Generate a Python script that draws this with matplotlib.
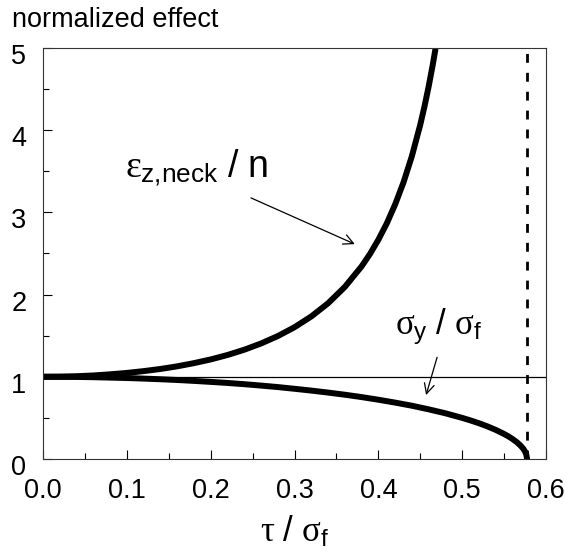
import matplotlib
matplotlib.use('Agg')
import matplotlib.pyplot as plt
from matplotlib.ticker import MultipleLocator
from matplotlib.transforms import ScaledTranslation

plt.rcParams['font.family'] = ['Liberation Sans', 'DejaVu Sans']
plt.rcParams['mathtext.fontset'] = 'custom'
plt.rcParams['mathtext.rm'] = 'Liberation Sans'
plt.rcParams['mathtext.it'] = 'Liberation Serif'
plt.rcParams['mathtext.default'] = 'it'

# values
tau_neck = [0.0, 0.02, 0.04, 0.06, 0.08, 0.10, 0.12, 0.14, 0.16, 0.18, 0.20,
            0.22, 0.24, 0.26, 0.28, 0.30, 0.32, 0.34, 0.36, 0.38, 0.39, 0.40,
            0.41, 0.42, 0.43, 0.44, 0.45, 0.455, 0.46, 0.465, 0.468]
eps_neck = [1.0, 1.002, 1.007, 1.016, 1.03, 1.047, 1.069, 1.095, 1.127, 1.166,
            1.211, 1.265, 1.329, 1.405, 1.495, 1.603, 1.734, 1.894, 2.093,
            2.343, 2.494, 2.667, 2.865, 3.096, 3.365, 3.684, 4.067, 4.287,
            4.531, 4.802, 4.98]

tau_yield = [0.0, 0.02, 0.04, 0.06, 0.08, 0.10, 0.12, 0.14, 0.16, 0.18, 0.20,
             0.22, 0.24, 0.26, 0.28, 0.30, 0.32, 0.34, 0.36, 0.38, 0.40, 0.42,
             0.44, 0.46, 0.48, 0.50, 0.51, 0.52, 0.53, 0.54, 0.55, 0.555,
             0.56, 0.565, 0.57, 0.573, 0.575, 0.5765, 0.5774]
sig_yield = [1.0, 0.999, 0.998, 0.995, 0.99, 0.985, 0.978, 0.97, 0.961, 0.95,
             0.938, 0.925, 0.91, 0.893, 0.875, 0.854, 0.832, 0.808, 0.782,
             0.753, 0.721, 0.686, 0.648, 0.604, 0.556, 0.5, 0.469, 0.435,
             0.397, 0.354, 0.304, 0.276, 0.243, 0.206, 0.159, 0.123, 0.09,
             0.054, 0.0]

tau_limit = 0.5774

fig = plt.figure(figsize=(5.66, 5.54), dpi=100)
ax = fig.add_axes([0.076, 0.1715, 0.8887, 0.7419])

ax.plot(tau_neck, eps_neck, color='black', lw=4.3, solid_capstyle='round',
        solid_joinstyle='round')
ax.plot(tau_yield, sig_yield, color='black', lw=4.3, solid_capstyle='round',
        solid_joinstyle='round')
ax.axhline(1.0, color='black', lw=0.9)
ax.plot([tau_limit, tau_limit], [0, 5], color='black', lw=2.0,
        linestyle=(0, (3.2, 3.6)))

ax.set_xlim(0, 0.6)
ax.set_ylim(0, 5)
ax.xaxis.set_major_locator(MultipleLocator(0.1))
ax.xaxis.set_minor_locator(MultipleLocator(0.05))
ax.yaxis.set_major_locator(MultipleLocator(1))
ax.yaxis.set_minor_locator(MultipleLocator(0.5))
ax.xaxis.set_major_formatter(plt.FormatStrFormatter('%.1f'))
ax.tick_params(which='both', direction='in', top=False, right=False,
               labelsize=19.5, width=0.8)
ax.tick_params(axis='x', which='major', length=6.5, pad=14)
ax.tick_params(axis='y', which='major', length=6.5, pad=12)
ax.tick_params(which='minor', length=4.3)
for s in ax.spines.values():
    s.set_linewidth(0.8)
    s.set_color('#333333')

# y tick labels sit a little below their ticks in the reference
shift = ScaledTranslation(0, -6 / 100, fig.dpi_scale_trans)
for lab in ax.get_yticklabels():
    lab.set_transform(lab.get_transform() + shift)

ax.set_xlabel(r'$\tau\ \mathrm{/}\ \sigma_\mathrm{f}$', fontsize=25, labelpad=7)
fig.text(0.021, 1 - 27 / 554, 'normalized effect', fontsize=19.5, va='baseline')

ax.text(0.098, 3.43, r'$\epsilon_\mathrm{z{,}neck}\ \mathrm{/\ n}$', fontsize=27,
        va='baseline')
ax.annotate('', xy=(0.375, 2.60), xytext=(0.245, 3.19),
            arrowprops=dict(arrowstyle='->', lw=0.9, color='black',
                            mutation_scale=18))

ax.text(0.42, 1.51, r'$\sigma_\mathrm{y}\ \mathrm{/}\ \sigma_\mathrm{f}$',
        fontsize=25, va='baseline')
ax.annotate('', xy=(0.456, 0.745), xytext=(0.471, 1.27),
            arrowprops=dict(arrowstyle='->', lw=0.9, color='black',
                            mutation_scale=18))

fig.savefig('out.png', dpi=100)
